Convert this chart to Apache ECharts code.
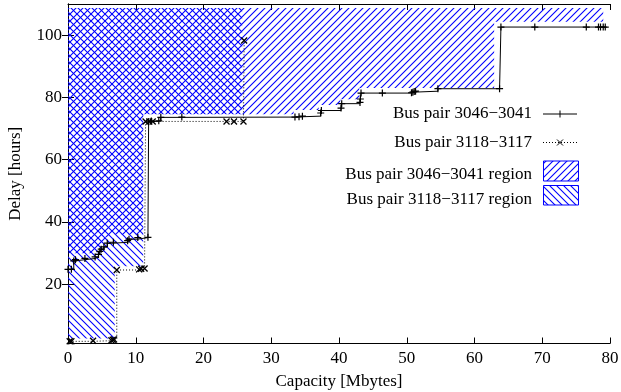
<!DOCTYPE html>
<html>
<head>
<meta charset="utf-8">
<script src="https://cdn.jsdelivr.net/npm/echarts@6/dist/echarts.min.js"></script>
<style>
  html, body { margin: 0; padding: 0; background: #fff; }
  #chart { width: 621px; height: 392px; }
</style>
</head>
<body>
<div id="chart"></div>
<script>
// step curves: [capacity MB, delay h]
const bus3046 = [
  [0.0, 24.8], [0.5, 24.8], [0.85, 27.5], [1.1, 27.9], [2.5, 28.3], [4.0, 28.8],
  [4.5, 29.6], [4.7, 30.6], [4.9, 31.3], [5.3, 32.0], [5.8, 33.2], [6.7, 33.5],
  [8.8, 34.0], [9.0, 34.5], [10.3, 35.0], [11.8, 35.1], [11.9, 72.2], [12.3, 72.4],
  [13.4, 72.5], [13.7, 73.6], [16.8, 73.7], [33.5, 73.7], [34.1, 73.8], [34.6, 74.0],
  [37.3, 75.0], [37.4, 75.8], [40.3, 76.6], [40.4, 78.0], [43.1, 78.4], [43.15, 79.5],
  [43.25, 81.4], [46.4, 81.4], [50.7, 81.5], [50.9, 81.7], [51.1, 81.9], [51.3, 82.0],
  [54.6, 82.8], [63.7, 82.8], [63.9, 102.6], [68.9, 102.6], [76.5, 102.6], [78.3, 102.6],
  [78.6, 102.6], [79.0, 102.6], [79.3, 102.6]
];
const bus3118 = [
  [0.25, 1.7], [0.5, 1.7], [3.7, 1.9], [6.4, 2.0], [6.6, 2.2], [6.8, 2.3],
  [7.2, 24.6], [10.5, 24.8], [10.8, 25.0], [11.3, 25.1], [11.45, 72.3], [12.0, 72.3],
  [12.5, 72.3], [23.4, 72.3], [24.5, 72.3], [25.9, 72.3], [26.0, 98.3]
];

// hatched regions: lower edge as steps (edgeY[i] spans edgeX[i]..edgeX[i+1]) up to regionTop
const regionTop = 108.7;
const region3046EdgeX = [0, 4.2, 4.6, 5.0, 5.5, 6.3, 11.1, 33.3, 37.0, 40.2, 43.0, 62.9, 79.0];
const region3046EdgeY = [30.0, 31.2, 32.3, 33.6, 35.0, 36.0, 74.6, 76.0, 77.6, 79.4, 83.0, 104.3];
const region3118EdgeX = [0, 6.9, 11.1, 25.7];
const region3118EdgeY = [2.6, 25.8, 74.6];

const xTicks = [0, 10, 20, 30, 40, 50, 60, 70, 80];
const yTicks = [20, 40, 60, 80, 100];

const FONT = '"Liberation Serif", "Times New Roman", serif';
const BLUE = '#0000ff';

function hatch(dir) {
  const s = 7;
  const c = document.createElement('canvas');
  c.width = s; c.height = s;
  const g = c.getContext('2d');
  g.strokeStyle = BLUE;
  g.lineWidth = 1.1;
  g.beginPath();
  if (dir === 'up') {
    g.moveTo(-1, s + 1); g.lineTo(s + 1, -1);
    g.moveTo(-1, 1); g.lineTo(1, -1);
    g.moveTo(s - 1, s + 1); g.lineTo(s + 1, s - 1);
  } else {
    g.moveTo(-1, -1); g.lineTo(s + 1, s + 1);
    g.moveTo(s - 1, -1); g.lineTo(s + 1, 1);
    g.moveTo(-1, s - 1); g.lineTo(1, s + 1);
  }
  g.stroke();
  return { image: c, repeat: 'repeat' };
}
const patUp = hatch('up');
const patDown = hatch('down');

function stepPolygon(xs, ys, top) {
  const pts = [[xs[0], top]];
  for (let i = 0; i < ys.length; i++) {
    pts.push([xs[i], ys[i]]);
    pts.push([xs[i + 1], ys[i]]);
  }
  pts.push([xs[xs.length - 1], top]);
  return pts;
}

function regionSeries(name, pts, pattern) {
  return {
    type: 'custom',
    name: name,
    silent: true,
    z: 1,
    data: [0],
    renderItem: function (params, api) {
      return {
        type: 'polygon',
        shape: { points: pts.map(p => api.coord(p)) },
        style: { fill: pattern, stroke: null }
      };
    }
  };
}

const plusPath = 'path://M0,5L10,5M5,0L5,10';
const crossPath = 'path://M0,0L10,10M10,0L0,10';

const chart = echarts.init(document.getElementById('chart'));

// legend drawn by hand, gnuplot style
const legendRight = 532, keyL = 543, keyR = 577;
function legendText(txt, y) {
  return { type: 'text', x: legendRight, y: y,
    style: { text: txt, fill: '#000', font: '17px ' + FONT, align: 'right', verticalAlign: 'middle' } };
}
const graphics = [
  legendText('Bus pair 3046\u22123041', 114),
  { type: 'line', shape: { x1: keyL, y1: 114, x2: keyR, y2: 114 }, style: { stroke: '#000', lineWidth: 1 } },
  { type: 'line', shape: { x1: 560, y1: 110.5, x2: 560, y2: 117.5 }, style: { stroke: '#000', lineWidth: 1 } },
  legendText('Bus pair 3118\u22123117', 142.5),
  { type: 'line', shape: { x1: keyL, y1: 142.5, x2: keyR, y2: 142.5 }, style: { stroke: '#000', lineWidth: 1, lineDash: [1, 2] } },
  { type: 'line', shape: { x1: 557, y1: 139.5, x2: 563, y2: 145.5 }, style: { stroke: '#000', lineWidth: 1 } },
  { type: 'line', shape: { x1: 563, y1: 139.5, x2: 557, y2: 145.5 }, style: { stroke: '#000', lineWidth: 1 } },
  legendText('Bus pair 3046\u22123041 region', 175),
  { type: 'rect', shape: { x: 543.5, y: 161, width: 35, height: 20 }, style: { fill: patUp, stroke: BLUE, lineWidth: 1 } },
  legendText('Bus pair 3118\u22123117 region', 199.5),
  { type: 'rect', shape: { x: 543.5, y: 185.5, width: 35, height: 19.5 }, style: { fill: patDown, stroke: BLUE, lineWidth: 1 } }
];

const axisText = { color: '#000', fontFamily: FONT, fontSize: 17 };
const frame = { show: true, lineStyle: { color: '#000', width: 1 } };

chart.setOption({
  animation: false,
  backgroundColor: '#fff',
  grid: { left: 68, right: 11, top: 4, bottom: 48.5, outerBoundsMode: 'none', containLabel: false },
  xAxis: [
    {
      type: 'value', min: 0, max: 80, interval: 10,
      axisLine: frame,
      axisTick: { inside: true, length: 6, lineStyle: { color: '#000' } },
      axisLabel: { margin: 7, ...axisText },
      splitLine: { show: false },
      name: 'Capacity [Mbytes]', nameLocation: 'middle', nameGap: 30,
      nameTextStyle: axisText
    },
    {
      type: 'value', position: 'top', min: 0, max: 80, interval: 10,
      axisLine: frame,
      axisTick: { inside: true, length: 6, lineStyle: { color: '#000' } },
      axisLabel: { show: false }, splitLine: { show: false }
    }
  ],
  yAxis: [
    {
      type: 'value', min: 1, max: 110,
      axisLine: frame,
      axisTick: { inside: true, length: 6, customValues: yTicks, lineStyle: { color: '#000' } },
      axisLabel: { margin: 6, customValues: yTicks, ...axisText },
      splitLine: { show: false },
      name: 'Delay [hours]', nameLocation: 'middle', nameGap: 44,
      nameTextStyle: axisText
    },
    {
      type: 'value', position: 'right', min: 1, max: 110,
      axisLine: frame,
      axisTick: { inside: true, length: 6, customValues: yTicks, lineStyle: { color: '#000' } },
      axisLabel: { show: false }, splitLine: { show: false }
    }
  ],
  series: [
    regionSeries('Bus pair 3046\u22123041 region', stepPolygon(region3046EdgeX, region3046EdgeY, regionTop), patUp),
    regionSeries('Bus pair 3118\u22123117 region', stepPolygon(region3118EdgeX, region3118EdgeY, regionTop), patDown),
    {
      type: 'line', name: 'Bus pair 3046\u22123041', data: bus3046, step: 'end', z: 3,
      showSymbol: true, symbol: plusPath, symbolSize: 7,
      itemStyle: { color: '#000', borderColor: '#000', borderWidth: 1.2 },
      lineStyle: { color: '#000', width: 1 }
    },
    {
      type: 'line', name: 'Bus pair 3118\u22123117', data: bus3118, step: 'end', z: 3,
      showSymbol: true, symbol: crossPath, symbolSize: 6,
      itemStyle: { color: '#000', borderColor: '#000', borderWidth: 1.3 },
      lineStyle: { color: '#000', width: 1, type: [1, 2] }
    }
  ],
  graphic: graphics
});
</script>
</body>
</html>
